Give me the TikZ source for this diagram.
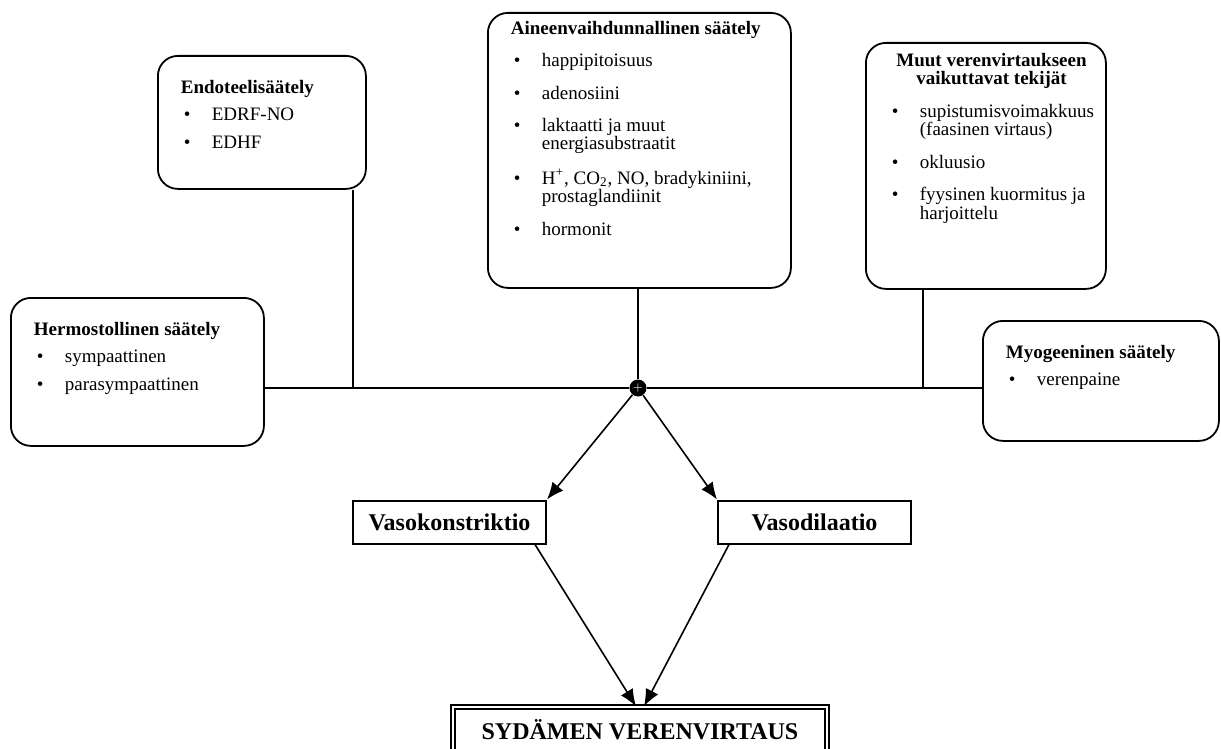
\documentclass[tikz,border=0pt]{standalone}
\usepackage{fontspec}
\setmainfont{Liberation Serif}
\usetikzlibrary{arrows,arrows.meta,positioning}

\begin{document}
\begin{tikzpicture}[
    x=0.5pt, y=-0.5pt,
    >={Latex[length=8.5pt,width=7pt]},
    font=\fontsize{9.5}{8.8}\selectfont,
    regbox/.style={
		rectangle,
		rounded corners=10pt,
		draw=black,
		line width=0.9pt,
		anchor=north west,
		inner xsep=11.5pt,
		inner ysep=12pt
	},
    vasobox/.style={
		rectangle,
		draw=black,
		line width=1pt,
		minimum width=96.5pt,
		minimum height=21.5pt,
		font=\fontsize{12}{14}\selectfont\bfseries
	},
    flowbox/.style={
		rectangle,
		draw=black,
		double,
		double distance=1.4pt,
		line width=0.7pt,
		minimum width=187pt,
		minimum height=23pt,
		font=\fontsize{12}{14}\selectfont\bfseries
	},
    link/.style={
		line width=0.8pt
	}
  ]
  \useasboundingbox (0,0) rectangle (1221,749);

  % the regulation boxes
  \node [regbox, inner ysep=4pt] (aine) at (487,12)
 {%
 \begin{minipage}[t][129.5pt][t]{128.5pt}
 \begin{tabular}{@{}p{15.5pt}@{}l@{}}
  \multicolumn{2}{@{}l@{}}{\textbf{Aineenvaihdunnallinen säätely}}\\[7pt]
  \hspace{1.5pt}\textbullet & happipitoisuus\\[7pt]
  \hspace{1.5pt}\textbullet & adenosiini\\[7pt]
  \hspace{1.5pt}\textbullet & laktaatti ja muut\\
              & energiasubstraatit\\[7pt]
  \hspace{1.5pt}\textbullet & H\textsuperscript{+}, CO\textsubscript{2}, NO, bradykiniini,\\
              & prostaglandiinit\\[7pt]
  \hspace{1.5pt}\textbullet & hormonit
 \end{tabular}
 \end{minipage}
 };

  \node [regbox] (endo) at (157,55)
 {%
 \begin{minipage}[t][42.5pt][t]{81pt}
 \begin{tabular}{@{}p{15.5pt}@{}l@{}}
  \multicolumn{2}{@{}l@{}}{\textbf{Endoteelisäätely}}\\[5pt]
  \hspace{1.5pt}\textbullet & EDRF-NO\\[5pt]
  \hspace{1.5pt}\textbullet & EDHF
 \end{tabular}
 \end{minipage}
 };

  \node [regbox, inner ysep=5pt] (muut) at (865,42)
 {%
 \begin{minipage}[t][113pt][t]{97pt}
 \begin{tabular}{@{}p{15.5pt}@{}l@{}}
  \multicolumn{2}{@{}c@{}}{\textbf{Muut verenvirtaukseen}}\\
  \multicolumn{2}{@{}c@{}}{\textbf{vaikuttavat tekijät}}\\[7pt]
  \hspace{1.5pt}\textbullet & supistumisvoimakkuus\\
              & (faasinen virtaus)\\[7pt]
  \hspace{1.5pt}\textbullet & okluusio\\[7pt]
  \hspace{1.5pt}\textbullet & fyysinen kuormitus ja\\
              & harjoittelu
 \end{tabular}
 \end{minipage}
 };

  \node [regbox] (herm) at (10,297)
 {%
 \begin{minipage}[t][50pt][t]{103.5pt}
 \begin{tabular}{@{}p{15.5pt}@{}l@{}}
  \multicolumn{2}{@{}l@{}}{\textbf{Hermostollinen säätely}}\\[5pt]
  \hspace{1.5pt}\textbullet & sympaattinen\\[5pt]
  \hspace{1.5pt}\textbullet & parasympaattinen
 \end{tabular}
 \end{minipage}
 };

  \node [regbox] (myo) at (982,320)
 {%
 \begin{minipage}[t][36pt][t]{95pt}
 \begin{tabular}{@{}p{15.5pt}@{}l@{}}
  \multicolumn{2}{@{}l@{}}{\textbf{Myogeeninen säätely}}\\[5pt]
  \hspace{1.5pt}\textbullet & verenpaine
 \end{tabular}
 \end{minipage}
 };

  % junction and outcome boxes
  \node [circle, fill=black, inner sep=0pt, minimum size=8.5pt] (hub) at (638,388)
    {\textcolor{white}{\tiny$+$}};
  \node [vasobox] (konst) at (449.5,522) {Vasokonstriktio};
  \node [vasobox] (dil) at (814.5,522) {Vasodilaatio};
  \node [flowbox] (flow) at (640,730) {SYDÄMEN VERENVIRTAUS};

  \coordinate (endoj) at (353,388);
  \coordinate (muutj) at (923,388);

  \draw [link] (herm.east |- hub) -- (hub) -- (myo.west |- hub);
  \draw [link] (endoj |- endo.south) -- (endoj);
  \draw [link] (aine.south -| hub) -- (hub);
  \draw [link] (muutj |- muut.south) -- (muutj);
  \draw [link,->] (hub) -- (konst.north east);
  \draw [link,->] (hub) -- (dil.north west);
  \draw [link,->] ([xshift=-6pt]konst.south east) -- ([xshift=-2pt]flow.north);
  \draw [link,->] ([xshift=6pt]dil.south west) -- ([xshift=2pt]flow.north);

\end{tikzpicture}
\end{document}
